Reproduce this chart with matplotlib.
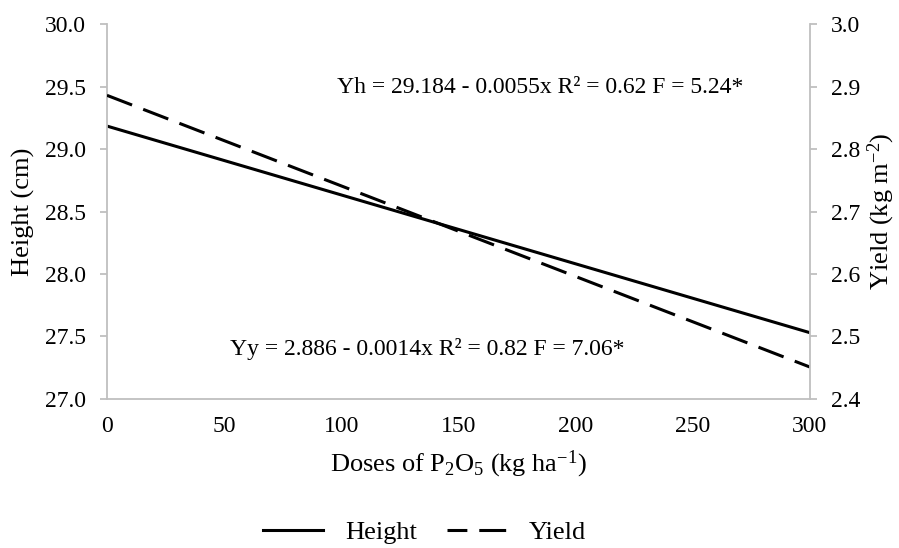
import matplotlib
matplotlib.use("Agg")
import matplotlib.pyplot as plt
from matplotlib.lines import Line2D

plt.rcParams['font.family'] = ['Liberation Serif', 'DejaVu Serif']
plt.rcParams['mathtext.fontset'] = 'custom'
plt.rcParams['mathtext.rm'] = 'Liberation Serif'
plt.rcParams['mathtext.it'] = 'Liberation Serif:italic'

doses = [0, 300]
height = [29.184, 27.53]
yield_ = [2.886, 2.451]

x_ticks = [0, 50, 100, 150, 200, 250, 300]
h_ticks = [27.0, 27.5, 28.0, 28.5, 29.0, 29.5, 30.0]
y_ticks = [2.4, 2.5, 2.6, 2.7, 2.8, 2.9, 3.0]

eq_h = "Yh = 29.184 - 0.0055x R\u00b2 = 0.62 F = 5.24*"
eq_y = "Yy = 2.886 - 0.0014x R\u00b2 = 0.82 F = 7.06*"

FS = 17     # ticks & equations
LFS = 19    # axis labels & legend
GRAY = '#bfbfbf'
LW = 2.2
DASH = (8.8, 3.9)

fig = plt.figure(figsize=(8.99, 5.48), dpi=100)
ax = fig.add_axes([0.119, 0.272, 0.782, 0.684])
ax2 = ax.twinx()

ax.plot(doses, height, color='black', lw=LW, solid_capstyle='butt')
ax2.plot(doses, yield_, color='black', lw=LW, dashes=DASH, dash_capstyle='butt')

ax.set_xlim(0, 300)
ax.set_ylim(27.0, 30.0)
ax2.set_ylim(2.4, 3.0)
ax.set_xticks(x_ticks)
ax.set_xticklabels([str(v) for v in x_ticks])
ax.set_yticks(h_ticks)
ax.set_yticklabels([f"{v:.1f}" for v in h_ticks])
ax2.set_yticks(y_ticks)
ax2.set_yticklabels([f"{v:.1f}" for v in y_ticks])

for a in (ax, ax2):
    a.spines['top'].set_visible(False)
    for s in ('left', 'right', 'bottom'):
        a.spines[s].set_color(GRAY)
        a.spines[s].set_linewidth(1.3)
    a.tick_params(axis='y', color=GRAY, width=1.3, length=5, labelsize=FS, pad=10)
    a.patch.set_visible(False)
ax.tick_params(axis='x', length=0, labelsize=FS, pad=12)
ax2.spines['left'].set_visible(False)
ax2.spines['bottom'].set_visible(False)
ax.spines['right'].set_visible(False)

ax.set_ylabel("Height (cm)", fontsize=LFS, labelpad=7)
ax2.set_ylabel("Yield (kg m$^{-2}$)", fontsize=LFS, labelpad=4)
ax.set_xlabel("Doses of P$_2$O$_5$ (kg ha$^{-1}$)", fontsize=LFS, labelpad=9)

ax.text(185, 29.496, eq_h, fontsize=FS, ha='center', va='center')
ax.text(136.5, 27.40, eq_y, fontsize=FS, ha='center', va='center')

handles = [Line2D([], [], color='black', lw=LW),
           Line2D([], [], color='black', lw=LW, linestyle=(2.3, DASH))]
fig.legend(handles, ["Height", "Yield"], loc='center', bbox_to_anchor=(0.472, 0.028),
           ncol=2, frameon=False, fontsize=LFS, handlelength=2.27, columnspacing=1.14,
           handletextpad=0.83, borderpad=0, borderaxespad=0)

fig.savefig("out.png", dpi=100)
